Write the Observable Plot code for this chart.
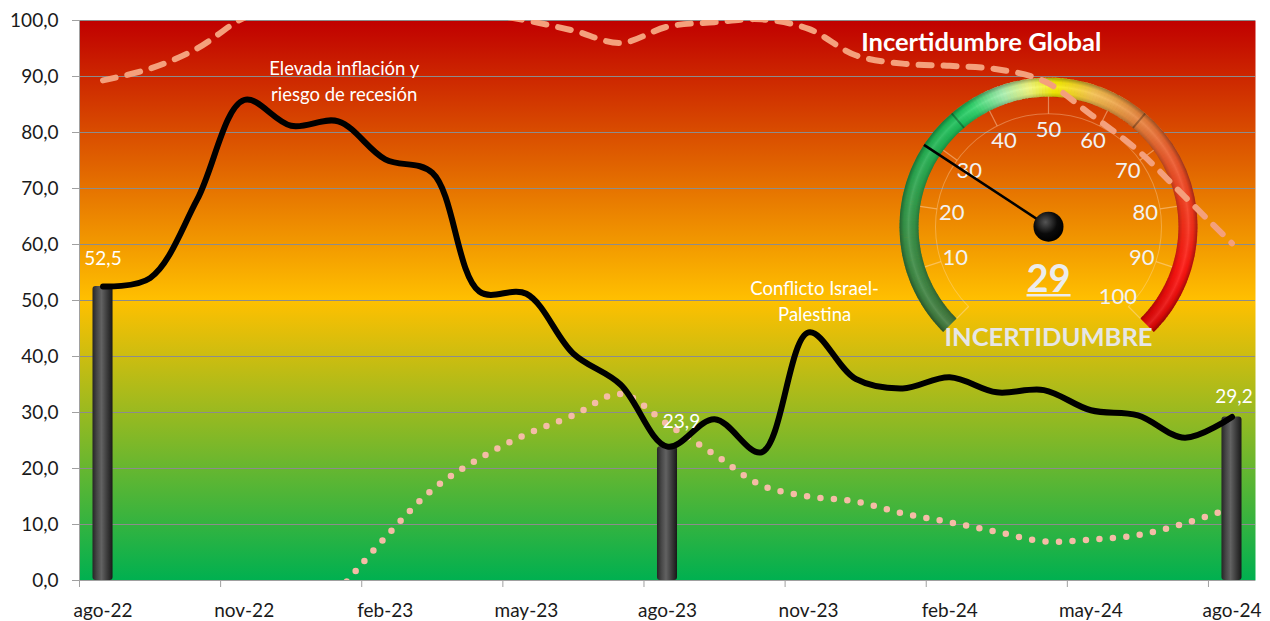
<!DOCTYPE html>
<html><head><meta charset="utf-8">
<script src="https://cdn.jsdelivr.net/npm/d3@7"></script>
<script src="https://cdn.jsdelivr.net/npm/@observablehq/plot@0.6"></script>
<style>
html,body{margin:0;padding:0;background:#fff;}
#chart{width:1270px;height:621px;}
</style></head><body><div id="chart"></div>
<script>
// ---------- data ----------
const months = ["ago-22","sep-22","oct-22","nov-22","dic-22","ene-23","feb-23","mar-23","abr-23","may-23","jun-23","jul-23","ago-23","sep-23","oct-23","nov-23","dic-23","ene-24","feb-24","mar-24","abr-24","may-24","jun-24","jul-24","ago-24"];
const uncertainty = [52.5,54.0,68.0,85.8,81.2,82.0,75.2,72.8,51.6,51.2,40.5,35.0,23.9,28.8,22.9,44.3,36.0,34.3,36.3,33.6,34.0,30.4,29.5,25.5,29.2];
const trendUpper = [89.3,91.4,95.0,100.5,103.0,104.0,104.0,103.0,101.5,100.0,98.2,96.0,98.9,99.7,100.2,98.5,93.8,92.3,91.9,91.3,89.2,83.2,76.8,68.5,60.2];
const trendLower = [null,null,null,null,null,-2.0,7.7,16.2,21.8,26.1,29.5,33.3,27.9,22.5,17.0,15.0,14.1,12.0,10.4,8.7,7.0,7.3,8.1,10.2,13.0];
const highlightMonths = ["ago-22","ago-23","ago-24"];
const highlightValues = [52.5,23.9,29.2];
const yTicks = [0,10,20,30,40,50,60,70,80,90,100];
const xTickMonths = ["ago-22","nov-22","feb-23","may-23","ago-23","nov-23","feb-24","may-24","ago-24"];
const noteMonths = ["ene-23","nov-23"];
const noteValues = [89.5,50.2];
const noteTexts = ["Elevada inflación y\nriesgo de recesión","Conflicto Israel-\nPalestina"];
const titleText = "Incertidumbre Global";
const gaugeValue = 29;
const gaugeLabels = [10,20,30,40,50,60,70,80,90,100];
const gaugeTicks = [0,10,20,30,40,50,60,70,80,90,100];
const gaugeCaption = "INCERTIDUMBRE";

// ---------- helpers ----------
const fmt = v => v.toFixed(1).replace(".", ",");
const idx = m => months.indexOf(m);
const rows = months.map((m, i) => ({m, i, x: i + 0.5, u: uncertainty[i], up: trendUpper[i], lo: trendLower[i]}));
const bars = highlightMonths.map((m, k) => ({i: idx(m), v: highlightValues[k], k}));
const notes = noteMonths.map((m, k) => ({x: idx(m) + 0.5, y: noteValues[k], t: noteTexts[k]}));
const labelNudge = [[0, -28], [14, -25], [2, -20]];

function defs() {
  const d = d3.create("svg:defs");
  const bg = d.append("linearGradient").attr("id", "bgGrad").attr("x1", 0).attr("y1", 0).attr("x2", 0).attr("y2", 1);
  bg.append("stop").attr("offset", "0%").attr("stop-color", "#C00000");
  bg.append("stop").attr("offset", "50%").attr("stop-color", "#FFC000");
  bg.append("stop").attr("offset", "100%").attr("stop-color", "#00B050");
  const bar = d.append("linearGradient").attr("id", "barGrad").attr("x1", 0).attr("y1", 0).attr("x2", 1).attr("y2", 0);
  [["0%","#262626"],["22%","#474747"],["45%","#626262"],["70%","#404040"],["100%","#181818"]]
    .forEach(([o,c]) => bar.append("stop").attr("offset", o).attr("stop-color", c));
  const hub = d.append("radialGradient").attr("id", "hubGrad").attr("cx", "40%").attr("cy", "35%").attr("r", "65%");
  hub.append("stop").attr("offset", "0%").attr("stop-color", "#555");
  hub.append("stop").attr("offset", "60%").attr("stop-color", "#0a0a0a");
  hub.append("stop").attr("offset", "100%").attr("stop-color", "#000");
  const ring = d.append("radialGradient").attr("id", "ringShade").attr("gradientUnits", "userSpaceOnUse")
    .attr("cx", 0).attr("cy", 0).attr("r", 149);
  [["0%","rgba(0,0,0,0)"],["87%","rgba(0,0,0,0.25)"],["90%","rgba(0,0,0,0.05)"],["94%","rgba(255,255,255,0.10)"],["97%","rgba(0,0,0,0.05)"],["100%","rgba(0,0,0,0.35)"]]
    .forEach(([o,c]) => ring.append("stop").attr("offset", o).attr("stop-color", c));
  return d.node();
}

function gauge(index, scales) {
  const cx = scales.x(20.61), cy = scales.y(63.1);
  const g = d3.create("svg:g").attr("transform", `translate(${cx},${cy})`);
  const ang = v => (-135 + 2.7 * v) * Math.PI / 180;
  const col = d3.scaleLinear()
    .domain([0,15,30,35,38,43,47,51,57,64,70,80,90,100])
    .range(["#437a3f","#3a9247","#22b655","#1ec25c","#2fd56c","#a8f0b0","#f0f880","#f8f000","#f5c050","#e88a40","#ea6530","#f43a1c","#ff1410","#dc0606"])
    .interpolate(d3.interpolateRgb);
  const arc = d3.arc();
  const rIn = 130, rOut = 149;
  for (let v = 0; v < 100; v += 0.5) {
    g.append("path").attr("d", arc({innerRadius: rIn, outerRadius: rOut, startAngle: ang(v), endAngle: ang(Math.min(100, v + 0.6))}))
      .attr("fill", col(v + 0.25));
  }
  g.append("path").attr("d", arc({innerRadius: rIn, outerRadius: rOut, startAngle: ang(0), endAngle: ang(100)}))
    .attr("fill", "url(#ringShade)");
  [35, 65].forEach(v => {
    const a = ang(v);
    g.append("line").attr("x1", rIn * Math.sin(a)).attr("y1", -rIn * Math.cos(a))
      .attr("x2", rOut * Math.sin(a)).attr("y2", -rOut * Math.cos(a))
      .attr("stroke", "rgba(0,0,0,0.3)").attr("stroke-width", 2);
  });
  g.append("path").attr("d", arc({innerRadius: 112.5, outerRadius: 113.5, startAngle: ang(0), endAngle: ang(100)}))
    .attr("fill", "rgba(255,225,190,0.35)");
  gaugeTicks.forEach(v => {
    const a = ang(v);
    g.append("line").attr("x1", 113 * Math.sin(a)).attr("y1", -113 * Math.cos(a))
      .attr("x2", rIn * Math.sin(a)).attr("y2", -rIn * Math.cos(a))
      .attr("stroke", "rgba(255,225,190,0.45)").attr("stroke-width", 1.2);
  });
  gaugeLabels.forEach(v => {
    const a = ang(v), r = 98;
    g.append("text").attr("x", r * Math.sin(a)).attr("y", -r * Math.cos(a))
      .attr("text-anchor", "middle").attr("dominant-baseline", "central")
      .attr("font-size", 22).attr("fill", "#f2f2f2").text(v);
  });
  const na = ang(gaugeValue);
  g.append("line").attr("x1", 0).attr("y1", 0).attr("x2", rOut * Math.sin(na)).attr("y2", -rOut * Math.cos(na))
    .attr("stroke", "#000").attr("stroke-width", 2.5);
  g.append("circle").attr("r", 15).attr("fill", "url(#hubGrad)");
  g.append("text").attr("x", 0).attr("y", 65).attr("text-anchor", "middle")
    .attr("font-size", 38).attr("font-weight", "bold").attr("fill", "#ececec").text(gaugeValue);
  g.append("line").attr("x1", -22).attr("x2", 22).attr("y1", 68.5).attr("y2", 68.5)
    .attr("stroke", "#ececec").attr("stroke-width", 2.5);
  g.append("text").attr("x", 0).attr("y", 119).attr("text-anchor", "middle")
    .attr("font-size", 25).attr("font-weight", "bold").attr("fill", "#e6e6e6")
    .attr("textLength", 208).attr("lengthAdjust", "spacingAndGlyphs").text(gaugeCaption);
  return g.node();
}

const plot = Plot.plot({
  width: 1270, height: 621,
  marginTop: 20, marginBottom: 41, marginLeft: 79, marginRight: 15,
  style: {fontFamily: "Lato, sans-serif", background: "#fff", overflow: "visible"},
  x: {domain: [0, 25]},
  y: {domain: [0, 100]},
  marks: [
    defs,
    Plot.frame({fill: "url(#bgGrad)", stroke: "none"}),
    Plot.ruleY(yTicks.filter(d => d > 0), {stroke: "#8c8c8c", strokeWidth: 1}),
    Plot.ruleX([0], {stroke: "#a0a0a0"}),
    Plot.ruleY([0], {stroke: "#a0a0a0"}),
    gauge,
    Plot.line(rows, {x: "x", y: "up", curve: "catmull-rom", stroke: "#F4A07C", strokeWidth: 6,
      strokeDasharray: "13,12", strokeLinecap: "round", clip: true}),
    Plot.line(rows.filter(d => d.lo != null), {x: "x", y: "lo", curve: "catmull-rom", stroke: "#F5BCA6", strokeWidth: 6.5,
      strokeDasharray: "0,13.5", strokeLinecap: "round", clip: true}),
    Plot.rectY(bars, {x1: d => d.i, x2: d => d.i + 1, y1: 0, y2: "v", insetLeft: 13.5, insetRight: 13.5,
      fill: "url(#barGrad)", rx: 3}),
    Plot.line(rows, {x: "x", y: "u", curve: "catmull-rom", stroke: "#000", strokeWidth: 6,
      strokeLinecap: "round", strokeLinejoin: "round"}),
    ...bars.map(b => Plot.text([b], {x: d => d.i + 0.5, y: "v", text: d => fmt(d.v), fill: "#fff", fontSize: 19,
      dx: labelNudge[b.k][0], dy: labelNudge[b.k][1]})),
    Plot.text(notes, {x: "x", y: "y", text: "t", fill: "#fff", fontSize: 18.5, lineHeight: 1.4, dx: 6}),
    Plot.text([titleText], {x: () => 16.5, y: () => 96.1, text: d => d, textAnchor: "start", dx: 5.5,
      fill: "#fff", fontSize: 25.5, fontWeight: "bold"}),
    Plot.axisY({ticks: yTicks, tickSize: 7, tickPadding: 14, tickFormat: fmt, fontSize: 19,
      stroke: "#a0a0a0", fill: "#1a1a1a", label: null}),
    Plot.axisX({ticks: xTickMonths.map(idx), tickSize: 7, tickFormat: () => "", stroke: "#a0a0a0", label: null}),
    Plot.axisX({ticks: xTickMonths.map(m => idx(m) + 0.5), tickSize: 0, tickPadding: 23,
      tickFormat: v => months[Math.round(v - 0.5)], fontSize: 19, fill: "#1a1a1a", label: null})
  ]
});
document.getElementById("chart").appendChild(plot);
</script>
</body></html>
